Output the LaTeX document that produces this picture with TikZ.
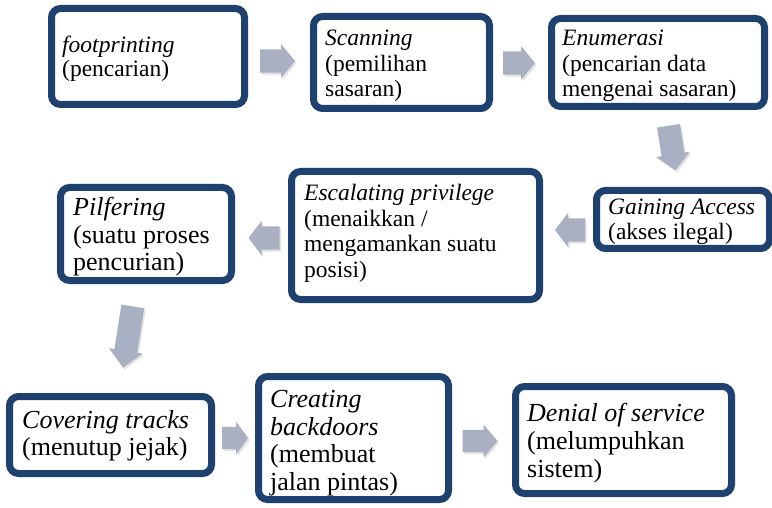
\documentclass[tikz,border=0pt]{standalone}
\usepackage{fontspec}
\setmainfont{Liberation Serif}
\usetikzlibrary{shadows}
\definecolor{boxblue}{HTML}{1F416F}
\definecolor{arrgray}{HTML}{A8B0C2}
\tikzset{
  stage/.style={draw=boxblue, line width=7pt, rounded corners=9pt, fill=white,
    inner sep=0pt, outer sep=0pt,
    drop shadow={opacity=0.3, shadow xshift=2pt, shadow yshift=-3pt}},
  lbl/.style={anchor=base west, align=left, inner sep=0pt,
    font=\fontsize{23.5}{25.5}\selectfont},
  lblbig/.style={lbl, font=\fontsize{26}{28}\selectfont},
  blk/.style={fill=arrgray, draw=none,
    drop shadow={opacity=0.22, shadow xshift=1.5pt, shadow yshift=-2pt}}
}
% name, x, y, angle, length, head width, head length
\newcommand{\blockarr}[7]{%
  \begin{scope}[shift={(#2,#3)}, rotate=#4]
    \coordinate (#1) at (0,0);
    \fill[blk] ({-#5/2},{-0.34*#6}) -- ({#5/2-#7},{-0.34*#6}) -- ({#5/2-#7},{-#6/2})
      -- ({#5/2},0) -- ({#5/2-#7},{#6/2}) -- ({#5/2-#7},{0.34*#6}) -- ({-#5/2},{0.34*#6}) -- cycle;
  \end{scope}}
\begin{document}
\begin{tikzpicture}[x=1pt, y=-1pt]
\useasboundingbox (0,0) rectangle (772,508);
% boxes
\node[stage, minimum width=193pt, minimum height=96pt] (b1) at (148,56.5) {};
\node[stage, minimum width=176pt, minimum height=92pt] (b2) at (401.5,62.5) {};
\node[stage, minimum width=213pt, minimum height=88pt] (b3) at (658,62.5) {};
\node[stage, minimum width=173pt, minimum height=58pt] (b4) at (683,219.5) {};
\node[stage, minimum width=248pt, minimum height=128pt] (b5) at (415.5,235.5) {};
\node[stage, minimum width=171pt, minimum height=93pt] (b6) at (146,234) {};
\node[stage, minimum width=202pt, minimum height=77pt] (b7) at (110.5,435) {};
\node[stage, minimum width=190pt, minimum height=123pt] (b8) at (353.5,438) {};
\node[stage, minimum width=216pt, minimum height=107pt] (b9) at (623.5,440) {};
% texts (anchor = baseline of the last line)
\node[lbl, font=\fontsize{23.5}{24}\selectfont] (t1) at (62,77) {\textit{footprinting}\\(pencarian)};
\node[lbl] (t2) at (325,97) {\textit{Scanning}\\(pemilihan\\sasaran)};
\node[lbl] (t3) at (562,97) {\textit{Enumerasi}\\(pencarian data\\mengenai sasaran)};
\node[lbl, font=\fontsize{23.5}{25}\selectfont] (t4) at (608,240) {\textit{Gaining Access}\\(akses ilegal)};
\node[lbl] (t5) at (304,277) {\textit{Escalating privilege}\\(menaikkan /\\mengamankan suatu\\posisi)};
\node[lblbig] (t6) at (73,271) {\textit{Pilfering}\\(suatu proses\\pencurian)};
\node[lblbig, font=\fontsize{26}{27}\selectfont] (t7) at (22,455) {\textit{Covering tracks}\\(menutup jejak)};
\node[lblbig, font=\fontsize{26}{27.5}\selectfont] (t8) at (270,490) {\textit{Creating}\\\textit{backdoors}\\(membuat\\jalan pintas)};
\node[lblbig] (t9) at (527,477) {\textit{Denial of service}\\(melumpuhkan\\sistem)};
% block arrows
\blockarr{a1}{277.5}{61}{0}{35}{34}{14}
\blockarr{a2}{519}{63}{0}{32}{34}{14}
\blockarr{a3}{672}{148}{-81}{45}{34}{16}
\blockarr{a4}{570}{230}{180}{30}{34}{13}
\blockarr{a5}{264}{238}{180}{31}{34}{13}
\blockarr{a6}{128}{337}{-99}{62}{34}{17}
\blockarr{a7}{235}{438}{0}{26}{33}{12}
\blockarr{a8}{480}{441}{0}{35}{33}{14}
\end{tikzpicture}
\end{document}
